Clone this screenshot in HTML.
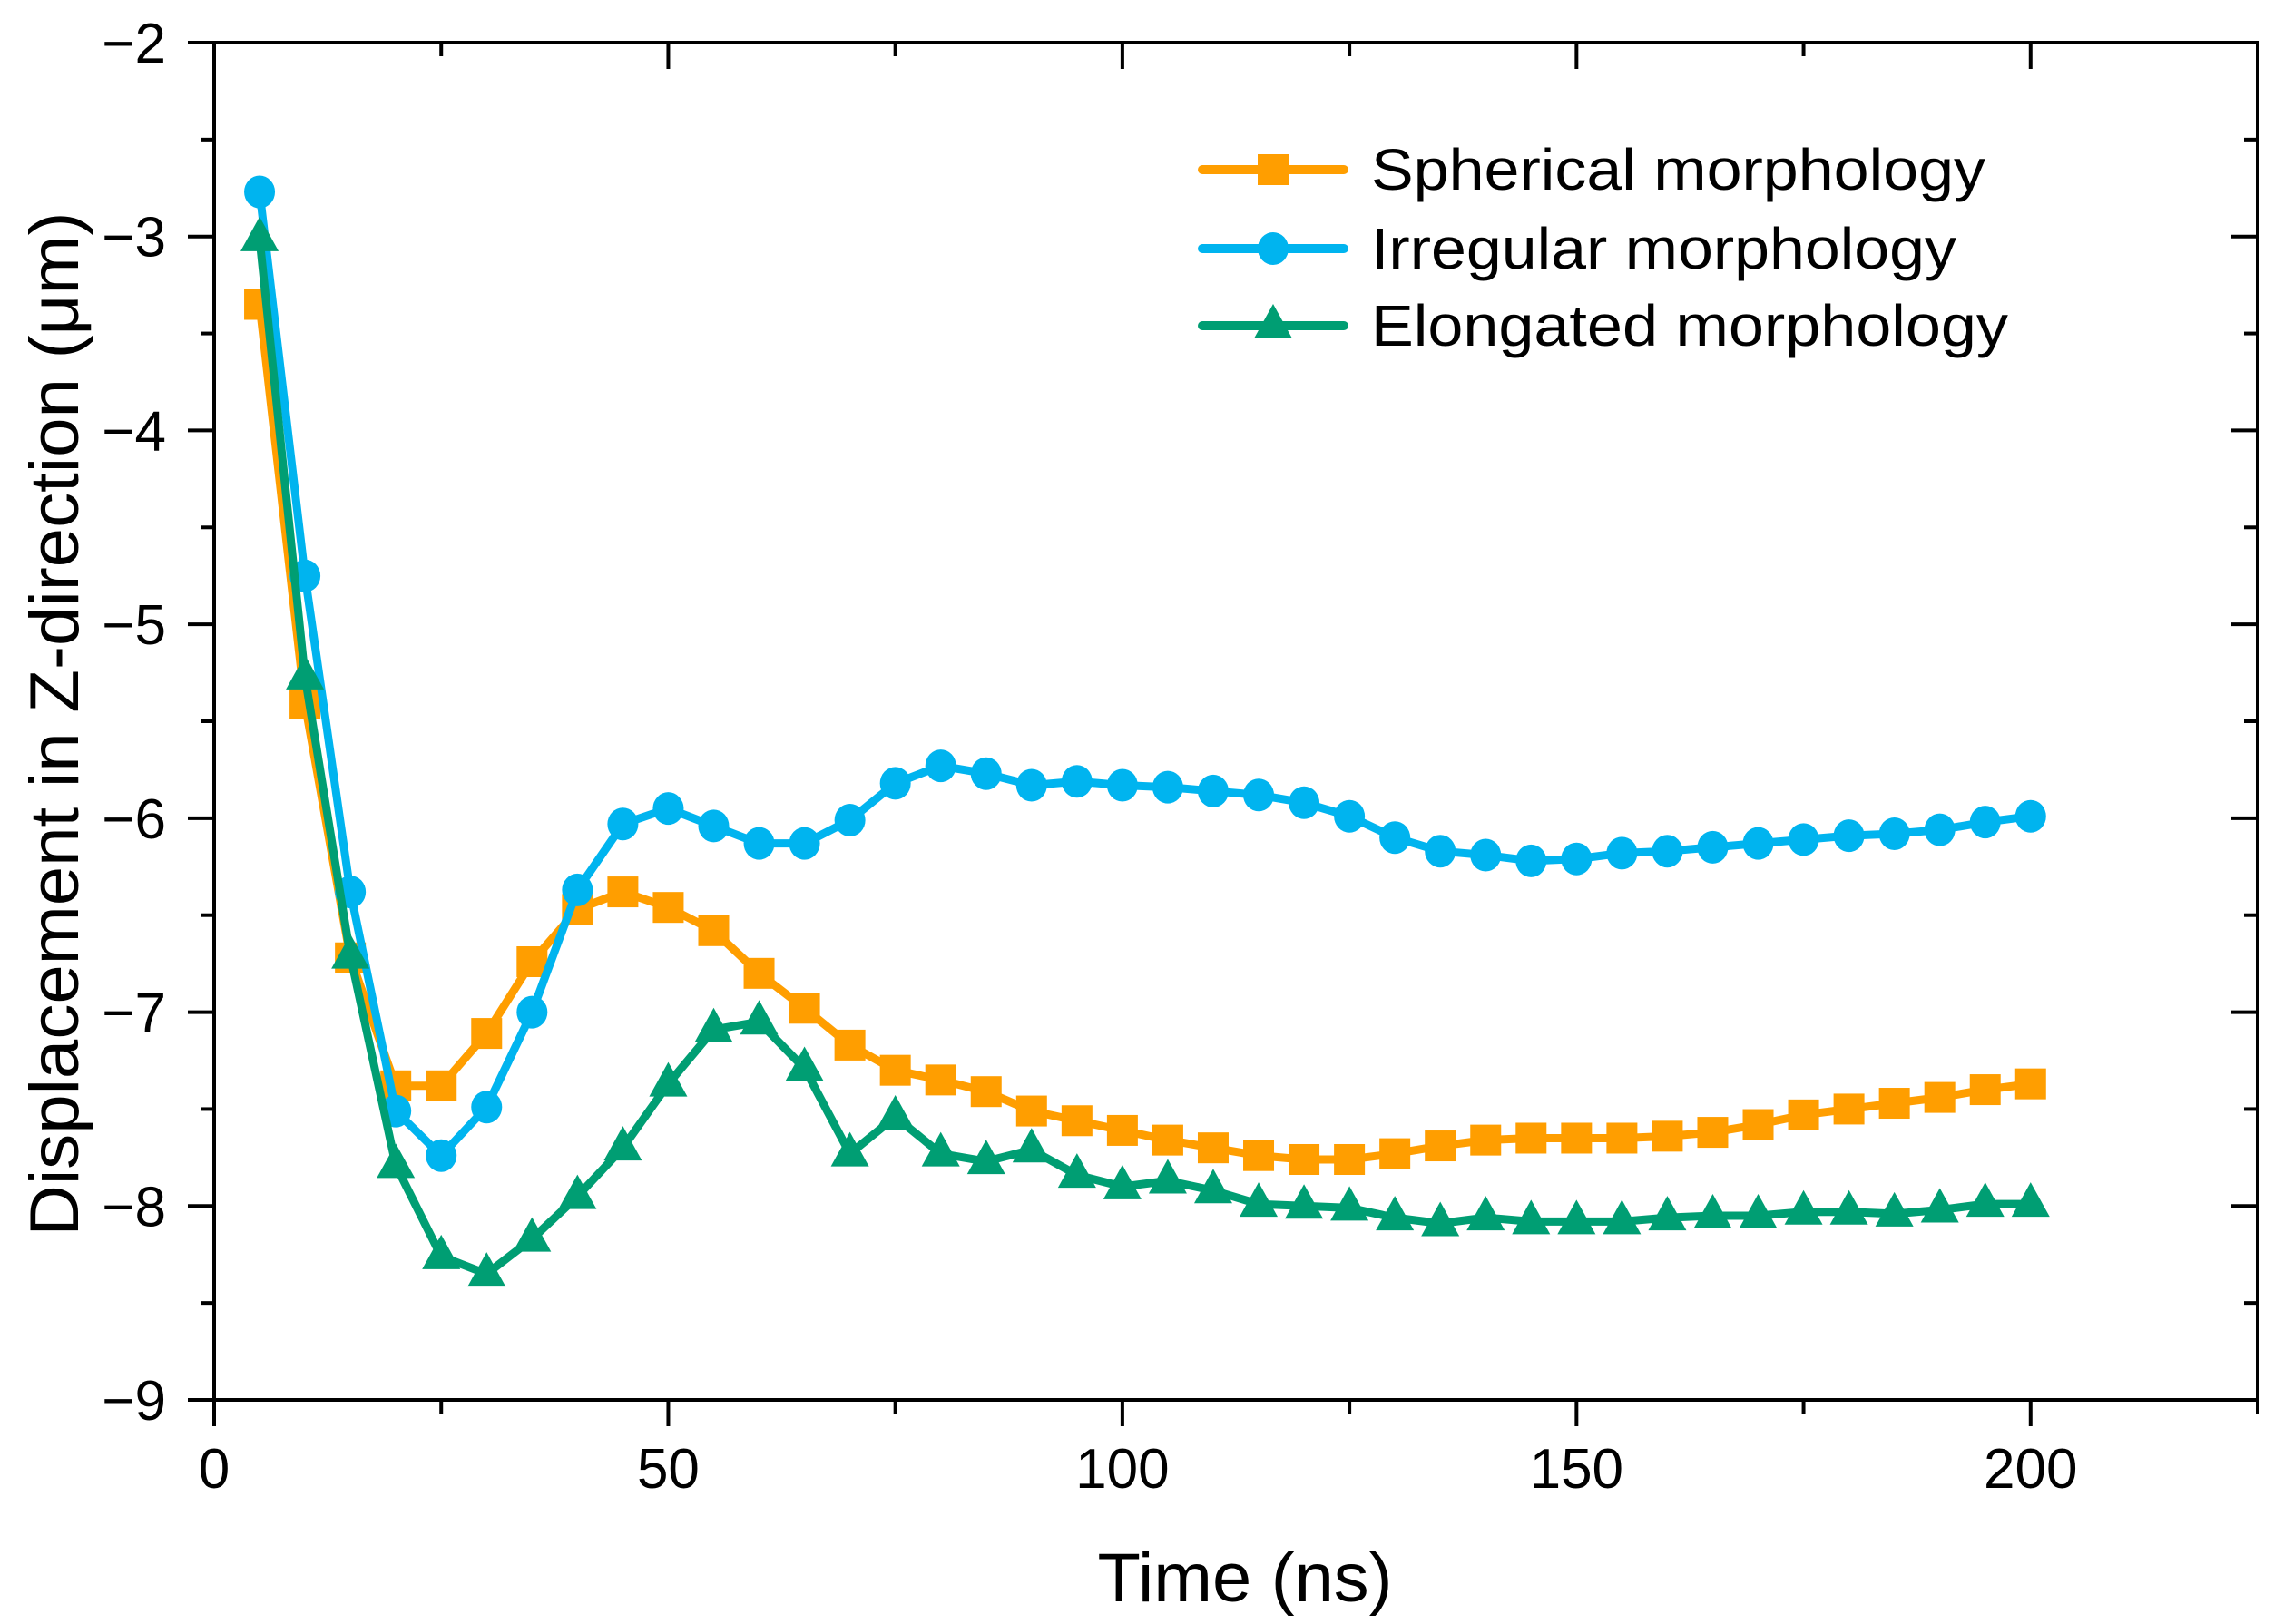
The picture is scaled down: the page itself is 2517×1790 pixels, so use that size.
<!DOCTYPE html>
<html><head><meta charset="utf-8"><style>
html,body{margin:0;padding:0;background:#fff;}
svg{display:block;font-family:"Liberation Sans",Arial,sans-serif;}
</style></head><body>
<svg id="chart" width="2517" height="1790" viewBox="0 0 2517 1790" xmlns="http://www.w3.org/2000/svg">
<rect x="0" y="0" width="2517" height="1790" fill="#fff"/>
<g id="marks"></g>
<g id="axes"></g>
</svg>
<script>
const times = [5,10,15,20,25,30,35,40,45,50,55,60,65,70,75,80,85,90,95,100,105,110,115,120,125,130,135,140,145,150,155,160,165,170,175,180,185,190,195,200];
const spherical = [-3.35,-5.41,-6.72,-7.38,-7.38,-7.11,-6.74,-6.47,-6.38,-6.46,-6.58,-6.80,-6.98,-7.17,-7.30,-7.35,-7.41,-7.51,-7.56,-7.61,-7.66,-7.70,-7.74,-7.76,-7.76,-7.73,-7.69,-7.66,-7.65,-7.65,-7.65,-7.64,-7.62,-7.58,-7.53,-7.50,-7.47,-7.44,-7.40,-7.37];
const irregular = [-2.77,-4.75,-6.38,-7.51,-7.74,-7.49,-7.00,-6.37,-6.03,-5.95,-6.04,-6.13,-6.13,-6.01,-5.82,-5.73,-5.77,-5.83,-5.81,-5.83,-5.84,-5.86,-5.88,-5.92,-5.99,-6.10,-6.17,-6.19,-6.22,-6.21,-6.18,-6.17,-6.15,-6.13,-6.11,-6.09,-6.08,-6.06,-6.02,-5.99];
const elongated = [-3.01,-5.27,-6.71,-7.79,-8.26,-8.35,-8.17,-7.95,-7.70,-7.37,-7.09,-7.05,-7.29,-7.73,-7.54,-7.73,-7.77,-7.71,-7.84,-7.90,-7.87,-7.92,-7.99,-8.00,-8.01,-8.06,-8.09,-8.06,-8.08,-8.08,-8.08,-8.06,-8.05,-8.05,-8.03,-8.03,-8.04,-8.02,-7.99,-7.99];
const xTicks = [0,50,100,150,200];
const xMinor = [25,75,125,175,225];
const yTicks = [-2,-3,-4,-5,-6,-7,-8,-9];
const yMinor = [-2.5,-3.5,-4.5,-5.5,-6.5,-7.5,-8.5];
const seriesNames = ["Spherical morphology","Irregular morphology","Elongated morphology"];

const NS="http://www.w3.org/2000/svg";
const L=236,R=2488,T=47,B=1543;
const xMin=0,xMax=225,yMin=-9,yMax=-2;
function X(v){return L+(v-xMin)/(xMax-xMin)*(R-L);}
function Y(v){return B-(v-yMin)/(yMax-yMin)*(B-T);}
function mk(tag,attrs,parent){const e=document.createElementNS(NS,tag);for(const k in attrs)e.setAttribute(k,attrs[k]);parent.appendChild(e);return e;}
const marks=document.getElementById('marks');
const axes=document.getElementById('axes');
const colors=["#FF9E00","#00B4EF","#009E73"];
const data=[spherical,irregular,elongated];
const keys=["spherical","irregular","elongated"];
const legendWidths=[677,645,702];

function marker(type,cx,cy,color,parent){
  let e;
  if(type===0){e=mk('rect',{x:cx-17,y:cy-17,width:34,height:34,fill:color},parent);}
  else if(type===1){e=mk('ellipse',{cx:cx,cy:cy,rx:17,ry:18,fill:color},parent);}
  else {e=mk('polygon',{points:`${cx},${cy-24} ${cx-21},${cy+14} ${cx+21},${cy+14}`,fill:color},parent);}
  return e;
}

data.forEach((arr,s)=>{
  const g=mk('g',{},marks);
  
  
  const pts=arr.map((v,i)=>X(times[i])+','+Y(v)).join(' ');
  const line=mk('polyline',{points:pts,fill:'none',stroke:colors[s],'stroke-width':9,'stroke-linejoin':'round'},g);
  
  
  arr.forEach((v,i)=>{
    const m=marker(s,X(times[i]),Y(v),colors[s],g);
    
    
  });
});

const frame=mk('rect',{x:L,y:T,width:R-L,height:B-T,fill:'none',stroke:'#000','stroke-width':4},axes);



xTicks.forEach(v=>{
  const x=X(v);
  mk('line',{x1:x,y1:B,x2:x,y2:B+29,stroke:'#000','stroke-width':4},axes);
  mk('line',{x1:x,y1:T,x2:x,y2:T+29,stroke:'#000','stroke-width':4},axes);
  const t=mk('text',{x:x,y:1640,'font-size':62,'text-anchor':'middle',fill:'#000'},axes);
  t.textContent=String(v);
  
  
});
xMinor.forEach(v=>{
  const x=X(v);
  mk('line',{x1:x,y1:B,x2:x,y2:B+15,stroke:'#000','stroke-width':4},axes);
  mk('line',{x1:x,y1:T,x2:x,y2:T+15,stroke:'#000','stroke-width':4},axes);
});
yTicks.forEach(v=>{
  const y=Y(v);
  mk('line',{x1:L-29,y1:y,x2:L,y2:y,stroke:'#000','stroke-width':4},axes);
  mk('line',{x1:R-29,y1:y,x2:R,y2:y,stroke:'#000','stroke-width':4},axes);
  const t=mk('text',{x:183,y:y+22,'font-size':62,'text-anchor':'end',fill:'#000'},axes);
  t.textContent='\u2212'+String(Math.abs(v));
  
  
});
yMinor.forEach(v=>{
  const y=Y(v);
  mk('line',{x1:L-15,y1:y,x2:L,y2:y,stroke:'#000','stroke-width':4},axes);
  mk('line',{x1:R-15,y1:y,x2:R,y2:y,stroke:'#000','stroke-width':4},axes);
});

const xt=mk('text',{x:1372,y:1765,'font-size':76,'text-anchor':'middle',fill:'#000',textLength:325,lengthAdjust:'spacingAndGlyphs'},axes);
xt.textContent='Time (ns)';


const yt=mk('text',{x:0,y:0,'font-size':76,'text-anchor':'middle',fill:'#000',textLength:1129,lengthAdjust:'spacingAndGlyphs',transform:'translate(86,798) rotate(-90)'},axes);
yt.textContent='Displacement in Z-direction (\u03bcm)';



const legend=mk('g',{},axes);


const rows=[187,274,359];
seriesNames.forEach((n,s)=>{
  const g=mk('g',{},legend);
  
  
  mk('line',{x1:1325,y1:rows[s],x2:1481,y2:rows[s],stroke:colors[s],'stroke-width':10,'stroke-linecap':'round'},g);
  marker(s,1403,rows[s],colors[s],g);
  const t=mk('text',{x:1511,y:rows[s]+22,'font-size':64,fill:'#000',textLength:legendWidths[s],lengthAdjust:'spacingAndGlyphs'},g);
  t.textContent=n;
});
</script>
</body></html>
